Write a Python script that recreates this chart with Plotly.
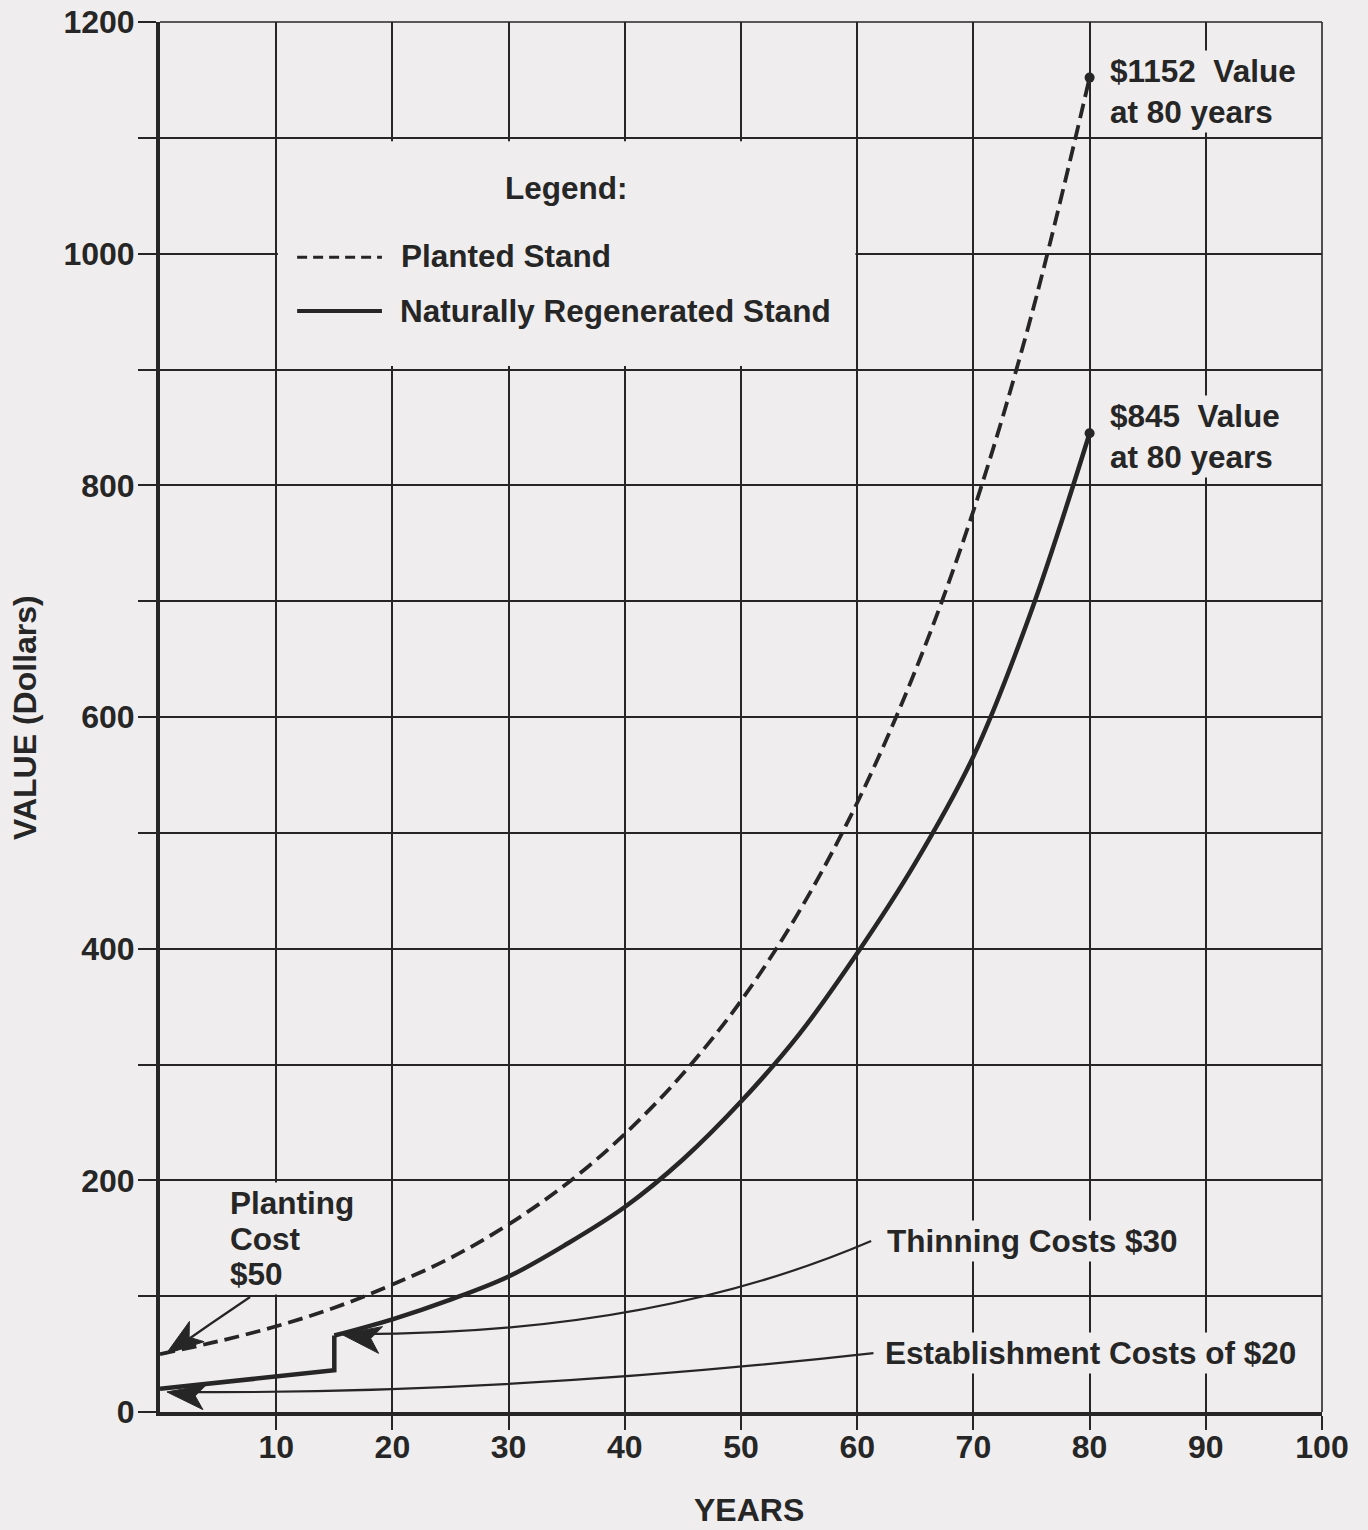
import math
import plotly.graph_objects as go

# ---------------- data ----------------
years_planted = [0, 5, 10, 15, 20, 25, 30, 35, 40, 45, 50, 55, 60, 65, 70, 75, 80]
value_planted = [50, 61, 74, 90, 110, 133, 162, 197, 240, 292, 355, 432, 526, 640, 778, 947, 1152]

years_natural_before = [0, 15]
value_natural_before = [20, 36]

years_natural_after = [15, 20, 25, 30, 35, 40, 45, 50, 55, 60, 65, 70, 75, 80]
value_natural_after = [66, 80, 97, 117, 145, 177, 218, 268, 326, 396, 474, 566, 692, 845]

x_ticks = [10, 20, 30, 40, 50, 60, 70, 80, 90, 100]
y_ticks = [0, 100, 200, 300, 400, 500, 600, 700, 800, 900, 1000, 1100, 1200]

# ---------------- style ----------------
BG = "#efeded"
INK = "#262626"
FONT = "Liberation Sans, Arial, sans-serif"
FS = 31.5
FT = 32

W, H = 1368, 1530
ML, MR, MT, MB = 160, 46, 22, 118
XR = (0, 100)
YR = (0, 1200)
PLOT_W = W - ML - MR
PLOT_H = H - MT - MB
PX_X = PLOT_W / (XR[1] - XR[0])
PX_Y = PLOT_H / (YR[1] - YR[0])

fig = go.Figure()

line_planted = dict(color=INK, width=3.8, dash="15px,7px", shape="spline", smoothing=1.0)
line_nat = dict(color=INK, width=4.5)

fig.add_trace(go.Scatter(x=years_planted, y=value_planted, mode="lines",
                         line=line_planted, name="Planted Stand", showlegend=False))
fig.add_trace(go.Scatter(x=years_natural_before + [years_natural_after[0]],
                         y=value_natural_before + [value_natural_after[0]],
                         mode="lines", line=line_nat, name="Naturally Regenerated Stand",
                         showlegend=False))
fig.add_trace(go.Scatter(x=years_natural_after, y=value_natural_after, mode="lines",
                         line=dict(line_nat, shape="spline", smoothing=1.0),
                         name="Naturally Regenerated Stand", showlegend=False))
fig.add_trace(go.Scatter(x=[years_planted[-1], years_natural_after[-1]],
                         y=[value_planted[-1], value_natural_after[-1]],
                         mode="markers", marker=dict(color=INK, size=10),
                         showlegend=False, hoverinfo="skip"))

shapes = []
annotations = []

# thin frame lines at the top and right edges of the grid
shapes.append(dict(type="line", xref="paper", yref="paper", x0=0, x1=1, y0=1, y1=1,
                   line=dict(color=INK, width=1.6), layer="between"))
shapes.append(dict(type="line", xref="paper", yref="paper", x0=1, x1=1, y0=0, y1=1,
                   line=dict(color=INK, width=1.6), layer="between"))

# legend box covering grid
shapes.append(dict(type="rect", xref="x", yref="y", x0=10.15, x1=59.85, y0=903, y1=1097,
                   fillcolor=BG, line=dict(width=0), layer="between"))
shapes.append(dict(type="line", xref="x", yref="y", x0=11.8, x1=19.1, y0=997, y1=997,
                   line=dict(color=INK, width=3, dash="10px,6px")))
shapes.append(dict(type="line", xref="x", yref="y", x0=11.8, x1=19.1, y0=950.5, y1=950.5,
                   line=dict(color=INK, width=4)))


def txt(x, y, text, xanchor="left", size=FS, bg=True, align="left"):
    annotations.append(dict(x=x, y=y, xref="x", yref="y", text=text, showarrow=False,
                            xanchor=xanchor, yanchor="middle", align=align,
                            font=dict(family=FONT, size=size, color=INK, weight="bold"),
                            bgcolor=BG if bg else None, borderpad=2))


txt(35.0, 1057, "Legend:", xanchor="center", bg=False)
txt(20.5, 998, "Planted Stand", bg=False)
txt(20.4, 950.5, "Naturally Regenerated Stand", bg=False)

txt(81.5, 1140, "$1152\u00a0\u00a0Value<br>at 80 years")
txt(81.5, 842, "$845\u00a0\u00a0Value<br>at 80 years")
txt(5.8, 180.4, "Planting")
txt(5.8, 149.4, "Cost")
txt(5.8, 119.1, "$50")
txt(62.3, 147.6, "Thinning Costs $30")
txt(62.1, 50.9, "Establishment Costs of $20")

# axis titles (page-pixel placement converted to paper fractions)
annotations.append(dict(x=(25 - ML) / PLOT_W, y=(H - MB - 718) / PLOT_H,
                        xref="paper", yref="paper",
                        text="VALUE (Dollars)", textangle=-90, showarrow=False,
                        xanchor="center", yanchor="middle",
                        font=dict(family=FONT, size=32, color=INK, weight="bold")))
annotations.append(dict(x=(749 - ML) / PLOT_W, y=-(1510 - (H - MB)) / PLOT_H,
                        xref="paper", yref="paper", text="YEARS", showarrow=False,
                        xanchor="center", yanchor="middle",
                        font=dict(family=FONT, size=32, color=INK, weight="bold")))


# arrows
def bez(p0, c, p1):
    return dict(type="path", xref="x", yref="y",
                path=f"M {p0[0]},{p0[1]} Q {c[0]},{c[1]} {p1[0]},{p1[1]}",
                line=dict(color=INK, width=2.2))


def head(tip, d, L=38, Wd=24, notch=0.75):
    dx, dy = d
    n = math.hypot(dx, dy)
    dx, dy = dx / n, dy / n          # pixel direction (y down)
    nx, ny = -dy, dx

    def off(ox, oy):
        return (tip[0] + ox / PX_X, tip[1] - oy / PX_Y)
    b1 = off(-L * dx + Wd / 2 * nx, -L * dy + Wd / 2 * ny)
    b2 = off(-notch * L * dx, -notch * L * dy)
    b3 = off(-L * dx - Wd / 2 * nx, -L * dy - Wd / 2 * ny)
    path = (f"M {tip[0]},{tip[1]} L {b1[0]},{b1[1]} L {b2[0]},{b2[1]} "
            f"L {b3[0]},{b3[1]} Z")
    return dict(type="path", xref="x", yref="y", path=path,
                fillcolor=INK, line=dict(color=INK, width=1))


# thinning
shapes.append(bez((61.2, 147.6), (42.17, 65.6), (15.9, 67.3)))
shapes.append(head((15.58, 67.3), (-1, -0.15), L=40, Wd=27))
# establishment
shapes.append(bez((61.4, 50.9), (29.26, 14.7), (1.0, 17.3)))
shapes.append(head((0.6, 17.3), (-1, -0.14), L=38, Wd=25))
# planting
shapes.append(bez((7.75, 99.3), (4.3, 76.0), (0.9, 52.0)))
shapes.append(head((0.52, 50.1), (-0.81, 0.59), L=38, Wd=25))

fig.update_layout(
    width=W, height=H,
    margin=dict(l=ML, r=MR, t=MT, b=MB, pad=0, autoexpand=False),
    paper_bgcolor=BG, plot_bgcolor=BG,
    font=dict(family=FONT, size=FT, color=INK, weight="bold"),
    shapes=shapes, annotations=annotations,
    showlegend=False,
)

fig.update_xaxes(range=list(XR), tickmode="array", tickvals=x_ticks,
                 ticktext=[str(v) for v in x_ticks],
                 showgrid=True, gridcolor=INK, gridwidth=1.6,
                 showline=True, linecolor=INK, linewidth=4,
                 ticks="outside", ticklen=14, tickwidth=2, tickcolor=INK,
                 zeroline=False, automargin=False, ticklabeloverflow="allow",
                 ticklabelstandoff=-10,
                 tickfont=dict(family=FONT, size=FT, color=INK, weight="bold"))
fig.update_yaxes(range=list(YR), tickmode="array", tickvals=y_ticks,
                 ticktext=[str(v) if v % 200 == 0 else "" for v in y_ticks],
                 showgrid=True, gridcolor=INK, gridwidth=1.6,
                 showline=True, linecolor=INK, linewidth=4,
                 ticks="outside", ticklen=18, tickwidth=2, tickcolor=INK,
                 zeroline=False, automargin=False, ticklabeloverflow="allow",
                 ticklabelstandoff=-3,
                 tickfont=dict(family=FONT, size=FT, color=INK, weight="bold"))

fig.write_html(
    "out.html",
    config={"displayModeBar": False},
    post_script="document.body.style.margin='0';"
                "document.body.style.background='" + BG + "';",
)
